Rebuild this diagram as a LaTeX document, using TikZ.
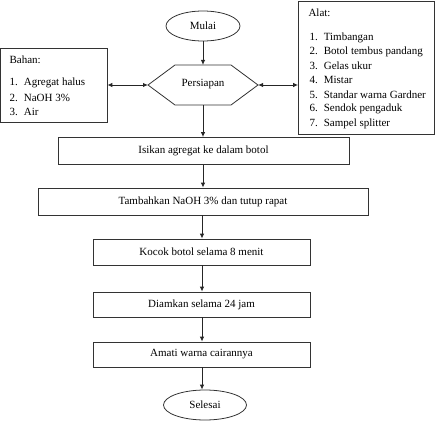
\documentclass[tikz,border=0pt]{standalone}
\usepackage{fontspec}
\setmainfont{Liberation Serif}
\usetikzlibrary{shapes.geometric,arrows.meta}
\begin{document}
\begin{tikzpicture}[x=1pt,y=-1pt,
  every node/.style={font=\fontsize{11}{13}\selectfont},
  box/.style={draw=black!80, line width=0.8pt, inner sep=0pt},
  oval/.style={draw=black!80, line width=0.8pt, ellipse, minimum width=74pt, minimum height=30pt, inner sep=0pt},
  arr/.style={draw=black!85, line width=0.9pt, -{Latex[length=5pt,width=4.5pt]}},
  darr/.style={draw=black!85, line width=0.9pt, {Latex[length=5pt,width=4.5pt]}-{Latex[length=5pt,width=4.5pt]}}
]
\useasboundingbox (0,0) rectangle (435,444);
% start
\node[oval] (mulai) at (203,26) {Mulai};
% hexagon
\draw[box] (148,85) -- (175,65) -- (231,65) -- (258,85) -- (231,105) -- (175,105) -- cycle;
\coordinate (hl) at (148,85);
\coordinate (hr) at (258,85);
\coordinate (ht) at (203,65);
\coordinate (hb) at (203,105);
\node (persiapan) at (203,84) {Persiapan};
% Bahan box
\node[box, minimum width=107pt, minimum height=74pt] (bahan) at (53.5,85) {};
\node[anchor=west] at (6,60) {Bahan:};
\node[anchor=west] at (6,83) {1.\hspace{0.55em}Agregat halus};
\node[anchor=west] at (6,98) {2.\hspace{0.55em}NaOH 3\%};
\node[anchor=west] at (6,112) {3.\hspace{0.55em}Air};
% Alat box
\node[box, minimum width=136pt, minimum height=133pt] (alat) at (366.5,67.5) {};
\node[anchor=west] at (305,13) {Alat:};
\node[anchor=west] at (306,38) {1.\hspace{0.55em}Timbangan};
\node[anchor=west] at (306,52) {2.\hspace{0.55em}Botol tembus pandang};
\node[anchor=west] at (306,66) {3.\hspace{0.55em}Gelas ukur};
\node[anchor=west] at (306,80) {4.\hspace{0.55em}Mistar};
\node[anchor=west] at (306,95) {5.\hspace{0.55em}Standar warna Gardner};
\node[anchor=west] at (306,109) {6.\hspace{0.55em}Sendok pengaduk};
\node[anchor=west] at (306,124) {7.\hspace{0.55em}Sampel splitter};
% steps
\node[box, minimum width=291pt, minimum height=27pt] (s1) at (203.5,151) {Isikan agregat ke dalam botol};
\node[box, minimum width=330pt, minimum height=27pt] (s2) at (203,201.5) {Tambahkan NaOH 3\% dan tutup rapat};
\node[box, minimum width=217pt, minimum height=26pt] (s3) at (201.5,252) {Kocok botol selama 8 menit};
\node[box, minimum width=217pt, minimum height=25pt] (s4) at (201.5,304.5) {Diamkan selama 24 jam};
\node[box, minimum width=217pt, minimum height=25pt] (s5) at (201.5,354.5) {Amati warna cairannya};
\node[oval, minimum width=83pt] (selesai) at (205,405) {Selesai};
% connectors
\draw[arr] (mulai.south) -- (ht);
\draw[darr] (bahan.east |- hl) -- (hl);
\draw[darr] (hr) -- (alat.west |- hr);
\draw[arr] (hb) -- (s1.north -| hb);
\draw[arr] (s1.south -| hb) -- (s2.north -| hb);
\draw[arr] (s2.south -| 202,0) -- (s3.north -| 202,0);
\draw[arr] (s3.south -| 202,0) -- (s4.north -| 202,0);
\draw[arr] (s4.south -| 202,0) -- (s5.north -| 202,0);
\draw[arr] (s5.south -| 202,0) -- (selesai.north -| 202,0);
\end{tikzpicture}
\end{document}
